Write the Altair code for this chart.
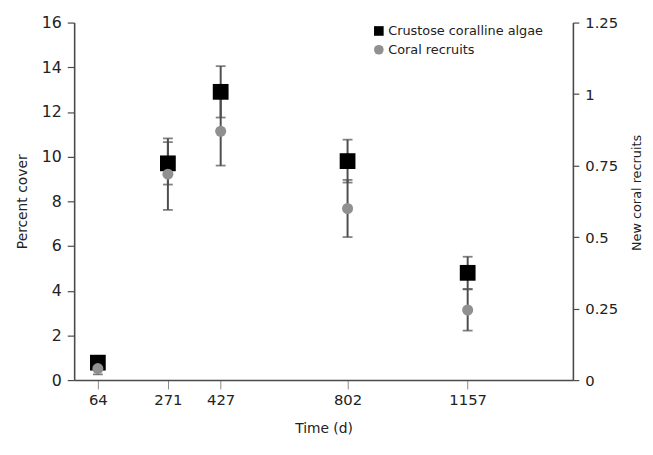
import altair as alt
import pandas as pd

# ---- data ----
times = [64, 271, 427, 802, 1157]
cca_mean = [0.78, 9.7, 12.9, 9.8, 4.8]          # percent cover (left axis)
cca_err = [0.25, 0.95, 1.15, 0.96, 0.72]
coral_mean = [0.04, 0.72, 0.87, 0.60, 0.245]    # new coral recruits (right axis)
coral_err = [0.02, 0.125, 0.12, 0.10, 0.072]
series_names = ["Crustose coralline algae", "Coral recruits"]
left_ticks = [0, 2, 4, 6, 8, 10, 12, 14, 16]
right_ticks = [0, 0.25, 0.5, 0.75, 1, 1.25]

LEFT_MAX = 16
RIGHT_MAX = 1.25

cca = pd.DataFrame({"time": times, "value": cca_mean, "err": cca_err,
                    "series": series_names[0]})
coral = pd.DataFrame({"time": times, "value": coral_mean, "err": coral_err,
                      "series": series_names[1]})

FONT = "DejaVu Sans"
AX = "#4a4a4a"
BAR = "#4d4d4d"

x_enc = alt.X("time:Q",
              scale=alt.Scale(domain=[-6, 1468], nice=False, zero=False),
              axis=alt.Axis(values=times, format="d", title="Time (d)", grid=False,
                            domainColor=AX, domainWidth=1.6,
                            tickColor="#8a8a8a", tickSize=9, tickWidth=1,
                            labelFontSize=15, labelPadding=4, labelColor="#222",
                            titleFontSize=14, titleFontWeight="normal",
                            titlePadding=14, titleColor="#222"))

left_scale = alt.Scale(domain=[0, LEFT_MAX], nice=False)
left_axis = alt.Axis(values=left_ticks, title="Percent cover", grid=False,
                     orient="left", domainColor=AX, domainWidth=1.6,
                     tickColor=AX, tickSize=7, tickWidth=1.2,
                     labelFontSize=16, labelPadding=6, labelColor="#222",
                     titleFontSize=14, titleFontWeight="normal",
                     titlePadding=12, titleColor="#222")

right_axis = alt.Axis(values=right_ticks, labelExpr="'' + datum.value",
                      title="New coral recruits", grid=False,
                      orient="right", domainColor=AX, domainWidth=1.6,
                      tickColor=AX, tickSize=6, tickWidth=1.2,
                      labelFontSize=15, labelPadding=6, labelColor="#222",
                      titleFontSize=13, titleFontWeight="normal",
                      titleAngle=270, titleX=64, titleY=172,
                      titleBaseline="middle", titleAlign="center",
                      titleColor="#222")

legend_def = alt.Legend(title=None, orient="none", legendX=302, legendY=2,
                        labelFontSize=13, labelColor="#222",
                        symbolSize=95, symbolStrokeWidth=0,
                        labelOffset=3, rowPadding=5, padding=0)
color = alt.Color("series:N",
                  scale=alt.Scale(domain=series_names, range=["#000000", "#909090"]),
                  legend=legend_def)
shape = alt.Shape("series:N",
                  scale=alt.Scale(domain=series_names, range=["square", "circle"]),
                  legend=legend_def)

ratio = LEFT_MAX / RIGHT_MAX


def err_layers(df, factor):
    base = alt.Chart(df).transform_calculate(
        lo=f"(datum.value - datum.err) * {factor}",
        hi=f"(datum.value + datum.err) * {factor}",
    )
    rule = base.mark_rule(color=BAR, strokeWidth=2).encode(
        x=x_enc,
        y=alt.Y("lo:Q", scale=left_scale, axis=left_axis),
        y2="hi:Q",
    )
    cap_lo = base.mark_tick(color=BAR, orient="horizontal", size=10, thickness=1.8).encode(
        x=x_enc, y=alt.Y("lo:Q", scale=left_scale, axis=left_axis))
    cap_hi = base.mark_tick(color=BAR, orient="horizontal", size=10, thickness=1.8).encode(
        x=x_enc, y=alt.Y("hi:Q", scale=left_scale, axis=left_axis))
    return [rule, cap_lo, cap_hi]


cca_pts = alt.Chart(cca).mark_point(filled=True, opacity=1, size=255, strokeWidth=0).encode(
    x=x_enc,
    y=alt.Y("value:Q", scale=left_scale, axis=left_axis),
    color=color, shape=shape,
)

left_layer = alt.layer(*err_layers(cca, 1), *err_layers(coral, ratio), cca_pts)

coral_pts = alt.Chart(coral).mark_point(filled=True, opacity=1, size=125, strokeWidth=0).encode(
    x=x_enc,
    y=alt.Y("value:Q", scale=alt.Scale(domain=[0, RIGHT_MAX], nice=False), axis=right_axis),
    color=color, shape=shape,
)

chart = alt.layer(left_layer, coral_pts).resolve_scale(y="independent").properties(
    width=505, height=362,
    autosize=alt.AutoSizeParams(type="none"),
    padding={"left": 67, "top": 12, "right": 73, "bottom": 65},
).configure(font=FONT).configure_view(stroke=None)

chart.save("out.html", embed_options={"renderer": "svg", "actions": False})
